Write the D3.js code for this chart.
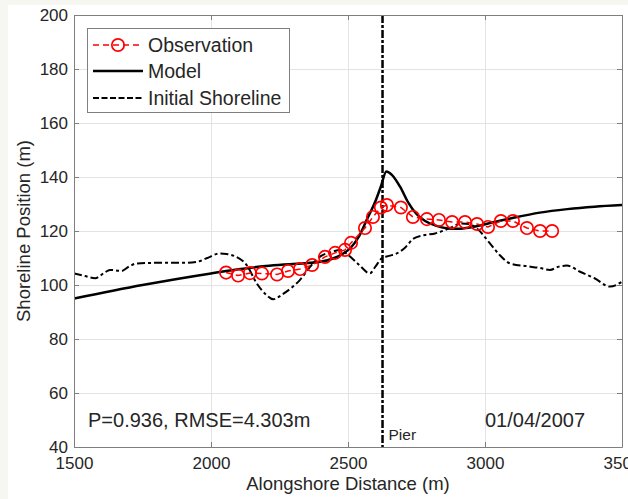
<!DOCTYPE html>
<html>
<head>
<meta charset="utf-8">
<script src="https://cdn.jsdelivr.net/npm/d3@7"></script>
<style>
  body { margin: 0; background: #f7f7f2; overflow: hidden; }
  text { font-family: "Liberation Sans", Arial, sans-serif; fill: #262626; }
</style>
</head>
<body>
<div id="canvas"></div>
<script>
var w = 628;
var h = 499;

// plot box (note: "top" is taken by window.top, so prefixed names)
var boxLeft = 74, boxRight = 622, boxTop = 15, boxBottom = 447;

// observations
var obsX = [2055, 2099, 2142, 2186, 2241, 2281, 2325, 2369, 2416, 2453, 2489, 2511, 2562, 2591, 2620,
            2642, 2693, 2737, 2788, 2832, 2880, 2927, 2971, 3011, 3058, 3102, 3153, 3201, 3245];
var obsY = [104.6, 103.5, 104.4, 104.3, 103.9, 105.2, 105.9, 107.4, 110.4, 111.9, 113.0, 115.6, 121.1, 125.2, 128.7,
            129.6, 128.7, 125.2, 124.4, 124.1, 123.3, 123.3, 122.6, 121.5, 123.7, 123.7, 121.1, 120.0, 120.0];

// model
var modelX = [1500, 1750, 2000, 2100, 2200, 2300, 2400, 2450, 2480, 2510, 2540, 2570, 2600, 2620, 2640,
              2660, 2690, 2720, 2750, 2780, 2820, 2860, 2900, 2950, 3000, 3100, 3200, 3300, 3400, 3500];
var modelY = [95.0, 100.0, 104.3, 105.8, 107.0, 107.8, 108.6, 110.0, 111.5, 113.8, 118.0, 124.5, 131.0, 136.5, 142.0,
              140.8, 136.4, 130.5, 126.3, 123.8, 122.0, 121.0, 120.8, 121.4, 122.5, 124.8, 126.8, 128.1, 129.0, 129.6];

// initial shoreline
var initX = [1500, 1540, 1577, 1610, 1631, 1674, 1700, 1729, 1800, 1900, 1950, 1984, 2033, 2057, 2090,
             2130, 2167, 2200, 2227, 2260, 2300, 2325, 2360, 2398, 2440, 2471, 2500, 2540, 2580, 2600,
             2623, 2650, 2678, 2710, 2739, 2780, 2818, 2870, 2915, 2945, 2970, 3018, 3050, 3091, 3150,
             3200, 3237, 3270, 3298, 3347, 3400, 3456, 3500];
var initY = [104.3, 103.3, 102.5, 104.5, 105.6, 105.2, 106.8, 108.0, 108.2, 108.2, 108.6, 109.9, 111.7, 111.5, 110.5,
             107.4, 100.6, 96.5, 94.7, 96.5, 99.5, 101.9, 106.5, 110.5, 112.2, 113.0, 111.2, 107.5, 104.3, 106.8,
             109.9, 110.8, 111.7, 114.0, 117.2, 118.5, 119.1, 121.0, 122.8, 122.5, 121.0, 115.4, 111.5, 108.0, 107.0,
             106.3, 105.6, 106.8, 107.2, 104.9, 102.5, 99.4, 101.2];

var pierX = 2626;

var xTicks = [1500, 2000, 2500, 3000, 3500];
var yTicks = [40, 60, 80, 100, 120, 140, 160, 180, 200];

var legendNames = ["Observation", "Model", "Initial Shoreline"];

var canvas = d3.select("#canvas")
    .append("svg")
    .attr("width", w)
    .attr("height", h);

canvas.append("rect")
    .attr("x", 8).attr("y", 5)
    .attr("width", w - 8).attr("height", h - 5)
    .attr("fill", "white");

var xScale = d3.scaleLinear().domain([1500, 3500]).range([boxLeft, boxRight]);
var yScale = d3.scaleLinear().domain([40, 200]).range([boxBottom, boxTop]);

// grid
canvas.append("g")
    .attr("transform", "translate(0," + boxBottom + ")")
    .call(d3.axisBottom(xScale).tickValues(xTicks).tickSize(-(boxBottom - boxTop)).tickFormat(""))
    .call(function (g) {
        g.select(".domain").remove();
        g.selectAll("line").attr("stroke", "#e3e3e3").attr("stroke-width", 1);
    });
canvas.append("g")
    .attr("transform", "translate(" + boxLeft + ",0)")
    .call(d3.axisLeft(yScale).tickValues(yTicks).tickSize(-(boxRight - boxLeft)).tickFormat(""))
    .call(function (g) {
        g.select(".domain").remove();
        g.selectAll("line").attr("stroke", "#e3e3e3").attr("stroke-width", 1);
    });

canvas.append("clipPath").attr("id", "clip")
    .append("rect")
    .attr("x", boxLeft).attr("y", boxTop)
    .attr("width", boxRight - boxLeft).attr("height", boxBottom - boxTop);

var plot = canvas.append("g").attr("clip-path", "url(#clip)");

var line = d3.line()
    .x(function (d) { return xScale(d[0]); })
    .y(function (d) { return yScale(d[1]); })
    .curve(d3.curveMonotoneX);

// initial shoreline
plot.append("path")
    .datum(d3.zip(initX, initY))
    .attr("d", line)
    .attr("fill", "none")
    .attr("stroke", "black")
    .attr("stroke-width", 2)
    .attr("stroke-dasharray", "8,3,3,3");

// model
plot.append("path")
    .datum(d3.zip(modelX, modelY))
    .attr("d", line)
    .attr("fill", "none")
    .attr("stroke", "black")
    .attr("stroke-width", 2.5);

// pier
plot.append("line")
    .attr("x1", xScale(pierX)).attr("x2", xScale(pierX))
    .attr("y1", boxTop).attr("y2", boxBottom)
    .attr("stroke", "black")
    .attr("stroke-width", 2.5)
    .attr("stroke-dasharray", "8,2,3,2");

// observations
var obs = d3.zip(obsX, obsY);
plot.append("path")
    .datum(obs)
    .attr("d", d3.line()
        .x(function (d) { return xScale(d[0]); })
        .y(function (d) { return yScale(d[1]); }))
    .attr("fill", "none")
    .attr("stroke", "red")
    .attr("stroke-width", 1.5)
    .attr("stroke-dasharray", "6,4");

plot.selectAll("circle.obs")
    .data(obs)
    .join("circle")
    .attr("class", "obs")
    .attr("cx", function (d) { return xScale(d[0]); })
    .attr("cy", function (d) { return yScale(d[1]); })
    .attr("r", 6.2)
    .attr("fill", "none")
    .attr("stroke", "red")
    .attr("stroke-width", 1.7);

// axes (box with inward ticks)
var axisColor = "#7f7f7f";
function styleAxis(g) {
    g.select(".domain").attr("stroke", axisColor).attr("stroke-width", 1);
    g.selectAll(".tick line").attr("stroke", axisColor);
    g.selectAll(".tick text").attr("fill", "#262626").attr("font-size", "17px")
        .attr("font-family", "'Liberation Sans', Arial, sans-serif");
}

canvas.append("g")
    .attr("transform", "translate(0," + boxBottom + ")")
    .call(d3.axisBottom(xScale).tickValues(xTicks).tickSizeInner(-5).tickSizeOuter(0).tickPadding(10).tickFormat(d3.format("d")))
    .call(styleAxis);
canvas.append("g")
    .attr("transform", "translate(0," + boxTop + ")")
    .call(d3.axisTop(xScale).tickValues(xTicks).tickSizeInner(-5).tickSizeOuter(0).tickFormat(""))
    .call(styleAxis);
canvas.append("g")
    .attr("transform", "translate(" + boxLeft + ",0)")
    .call(d3.axisLeft(yScale).tickValues(yTicks).tickSizeInner(-5).tickSizeOuter(0).tickPadding(6).tickFormat(d3.format("d")))
    .call(styleAxis);
canvas.append("g")
    .attr("transform", "translate(" + boxRight + ",0)")
    .call(d3.axisRight(yScale).tickValues(yTicks).tickSizeInner(-5).tickSizeOuter(0).tickFormat(""))
    .call(styleAxis);

// axis titles
canvas.append("text")
    .attr("x", (boxLeft + boxRight) / 2)
    .attr("y", 490)
    .attr("text-anchor", "middle")
    .attr("font-size", "18.5px")
    .text("Alongshore Distance (m)");

canvas.append("text")
    .attr("transform", "translate(30," + ((boxTop + boxBottom) / 2) + ") rotate(-90)")
    .attr("text-anchor", "middle")
    .attr("font-size", "18.5px")
    .text("Shoreline Position (m)");

// annotations
canvas.append("text")
    .attr("x", 88).attr("y", 427)
    .attr("font-size", "20px")
    .text("P=0.936, RMSE=4.303m");

canvas.append("text")
    .attr("x", 485).attr("y", 427)
    .attr("font-size", "20px")
    .text("01/04/2007");

canvas.append("text")
    .attr("x", xScale(pierX) + 6).attr("y", 440)
    .attr("font-size", "15.5px")
    .text("Pier");

// legend
var legend = canvas.append("g");
legend.append("rect")
    .attr("x", 87.5).attr("y", 28.5)
    .attr("width", 202).attr("height", 84)
    .attr("fill", "white")
    .attr("stroke", axisColor)
    .attr("stroke-width", 1);

var legendY = [45, 71, 98];
var lx1 = 93, lx2 = 143;

legend.append("line")
    .attr("x1", lx1).attr("x2", lx2).attr("y1", legendY[0]).attr("y2", legendY[0])
    .attr("stroke", "red").attr("stroke-width", 1.5).attr("stroke-dasharray", "6,4");
legend.append("circle")
    .attr("cx", (lx1 + lx2) / 2).attr("cy", legendY[0]).attr("r", 6.2)
    .attr("fill", "none").attr("stroke", "red").attr("stroke-width", 1.7);
legend.append("line")
    .attr("x1", lx1).attr("x2", lx2).attr("y1", legendY[1]).attr("y2", legendY[1])
    .attr("stroke", "black").attr("stroke-width", 2.5);
legend.append("line")
    .attr("x1", lx1).attr("x2", lx2).attr("y1", legendY[2]).attr("y2", legendY[2])
    .attr("stroke", "black").attr("stroke-width", 2).attr("stroke-dasharray", "6,2.5");

legend.selectAll("text")
    .data(legendNames)
    .join("text")
    .attr("x", 148)
    .attr("y", function (d, i) { return legendY[i]; })
    .attr("dy", "0.36em")
    .attr("font-size", "19.5px")
    .text(function (d) { return d; });
</script>
</body>
</html>
